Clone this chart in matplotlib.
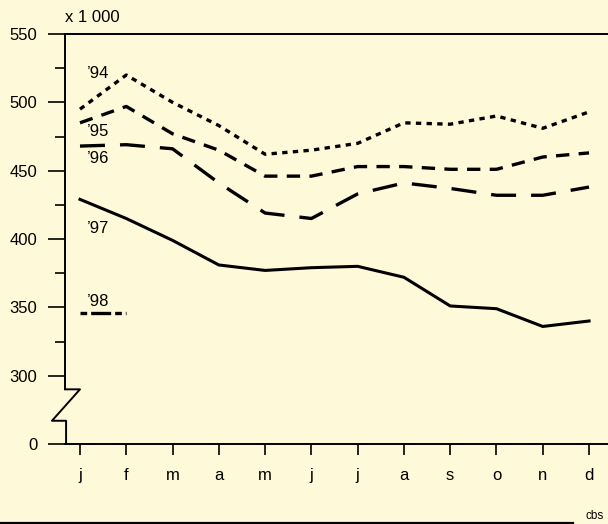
import matplotlib.pyplot as plt
from matplotlib.lines import Line2D

months = ['j', 'f', 'm', 'a', 'm', 'j', 'j', 'a', 's', 'o', 'n', 'd']
y94 = [495, 520, 500, 483, 462, 465, 470, 485, 484, 490, 481, 493]
y95 = [485, 497, 477, 465, 446, 446, 453, 453, 451, 451, 460, 463]
y96 = [468, 469, 466, 441, 419, 415, 433, 441, 437, 432, 432, 438]
y97 = [429, 415, 399, 381, 377, 379, 380, 372, 351, 349, 336, 340]
y98 = [346, 346]

# "0" sits at 250 on the internal scale, the axis is broken below 300
yticks = [250, 300, 350, 400, 450, 500, 550]
ytick_labels = ['0', '300', '350', '400', '450', '500', '550']

bg = '#fef9d8'
fs = 12
plt.rcParams['font.family'] = ['Liberation Sans', 'DejaVu Sans']

fig = plt.figure(figsize=(6.08, 5.24), dpi=100, facecolor=bg)
ax = fig.add_axes([65 / 608, 80 / 524, 543 / 608, 410 / 524], facecolor=bg)

x = list(range(12))
ax.plot(x, y94, color='black', lw=2.4, dashes=(1.6, 1.6))
ax.plot(x, y95, color='black', lw=2.4, dashes=(4, 2.8))
ax.plot(x, y96, color='black', lw=2.4, dashes=(7.5, 4.5))
ax.plot(x, y97, color='black', lw=2.2)
ax.plot([0, 1], y98, color='black', lw=2.4, dashes=(2, 1.2, 6, 1.2, 2, 1.2, 2, 1.2))

labels = [('\u201994', 521), ('\u201995', 479), ('\u201996', 459),
          ('\u201997', 408), ('\u201998', 354)]
for txt, yv in labels:
    ax.text(0.15, yv, txt, fontsize=fs, va='center', ha='left')

ax.set_xlim(-0.324, 11.41)
ax.set_ylim(250, 550)
ax.set_xticks(x)
ax.set_xticklabels(months, fontsize=fs)
ax.set_yticks(yticks)
ax.set_yticklabels(ytick_labels, fontsize=fs)
ax.set_yticks([325, 375, 425, 475, 525], minor=True)
ax.tick_params(axis='y', which='major', length=12, width=1.2, pad=8)
ax.tick_params(axis='y', which='minor', length=7, width=1.2)
ax.tick_params(axis='x', length=8, width=1.2, pad=9)

ax.spines['right'].set_visible(False)
for s in ['left', 'top', 'bottom']:
    ax.spines[s].set_linewidth(1.4)
ax.spines['left'].set_bounds(290, 550)

# axis break zigzag
tr = ax.get_yaxis_transform()
ax.add_line(Line2D([0, 0.0276, -0.024, 0.002, 0.002], [290, 290, 267, 267, 250],
                   transform=tr, color='black', lw=1.4, clip_on=False))

ax.text(0.0, 1.022, 'x 1 000', transform=ax.transAxes, fontsize=fs,
        ha='left', va='bottom')

fig.add_artist(Line2D([0, 573 / 608], [1 / 524, 1 / 524], color='black', lw=1.6))
fig.text(585 / 608, 2 / 524, 'cbs', fontsize=8.5, ha='left', va='bottom')

fig.savefig('out.png', dpi=100, facecolor=bg)
